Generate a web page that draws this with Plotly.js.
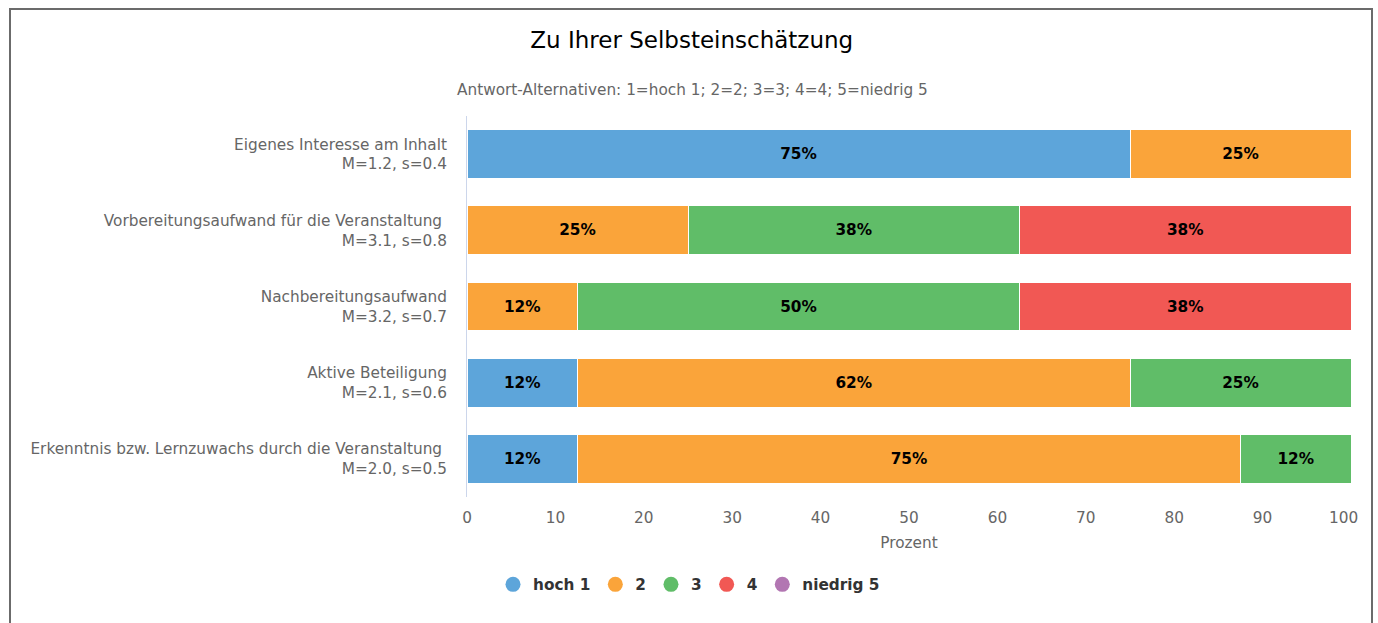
<!DOCTYPE html>
<html>
<head>
<meta charset="utf-8">
<script src="https://cdn.plot.ly/plotly-3.0.1.min.js"></script>
<style>
  html, body { margin: 0; padding: 0; background: #fff; overflow: hidden; }
  #chart { position: absolute; left: 0; top: 0; width: 1378px; height: 623px; }
  #frame { position: absolute; left: 9px; top: 8px; width: 1364px; height: 640px;
           border: 2px solid #6b6b6b; pointer-events: none; box-sizing: border-box; }
</style>
</head>
<body>
<div id="chart"></div>
<div id="frame"></div>
<script>
const categories = [
  "Eigenes Interesse am Inhalt<br>M=1.2, s=0.4",
  "Vorbereitungsaufwand für die Veranstaltung <br>M=3.1, s=0.8",
  "Nachbereitungsaufwand<br>M=3.2, s=0.7",
  "Aktive Beteiligung<br>M=2.1, s=0.6",
  "Erkenntnis bzw. Lernzuwachs durch die Veranstaltung <br>M=2.0, s=0.5"
];
const seriesNames = ["hoch 1", "2", "3", "4", "niedrig 5"];
const hoch1   = [75, 0, 0, 12.5, 12.5];
const val2    = [25, 25, 12.5, 62.5, 75];
const val3    = [0, 37.5, 50, 25, 12.5];
const val4    = [0, 37.5, 37.5, 0, 0];
const niedrig5 = [0, 0, 0, 0, 0];
const colors = ["#5DA5DA", "#FAA43A", "#60BD68", "#F15854", "#B276B2"];
const xTickVals = [0, 10, 20, 30, 40, 50, 60, 70, 80, 90, 100];
const xTickText = ["0", "10", "20", "30", "40", "50", "60", "70", "80", "90", "100\u00a0\u00a0\u00a0"];

const seriesValues = [hoch1, val2, val3, val4, niedrig5];

function roundHalfEven(v) {
  const f = Math.floor(v);
  const d = v - f;
  if (Math.abs(d - 0.5) < 1e-9) return (f % 2 === 0) ? f : f + 1;
  return Math.round(v);
}

const traces = [];
seriesValues.forEach((vals, i) => {
  traces.push({
    type: "bar",
    orientation: "h",
    name: seriesNames[i],
    y: categories,
    x: vals,
    marker: { color: colors[i], line: { color: "#ffffff", width: 1 } },
    text: vals.map(v => v > 0 ? roundHalfEven(v) + "%" : ""),
    textposition: "inside",
    insidetextanchor: "middle",
    textangle: 0,
    constraintext: "none",
    textfont: { family: "DejaVu Sans", size: 15.3, color: "#000000", weight: "bold" },
    showlegend: false,
    hoverinfo: "skip",
    width: 0.64
  });
});
seriesNames.forEach((n, i) => {
  traces.push({
    type: "scatter",
    mode: "markers",
    name: n,
    x: [null],
    y: [null],
    marker: { color: colors[i], size: 15, symbol: "circle" },
    showlegend: true,
    hoverinfo: "skip"
  });
});

const layout = {
  width: 1378,
  height: 623,
  margin: { l: 467, r: 27, t: 116, b: 125.5, pad: 0, autoexpand: false },
  paper_bgcolor: "#ffffff",
  plot_bgcolor: "#ffffff",
  font: { family: "DejaVu Sans", color: "#666666", size: 15.3 },
  barmode: "stack",
  title: {
    text: "Zu Ihrer Selbsteinschätzung",
    font: { family: "DejaVu Sans", size: 23, color: "#000000" },
    x: 0.502, xanchor: "center", xref: "container",
    y: 1 - 40 / 623, yanchor: "middle", yref: "container"
  },
  annotations: [{
    text: "Antwort-Alternativen: 1=hoch 1; 2=2; 3=3; 4=4; 5=niedrig 5",
    xref: "paper", yref: "paper",
    x: (692 - 467) / 884, xanchor: "center",
    y: (497.5 - 90) / 381.5, yanchor: "middle",
    showarrow: false,
    font: { family: "DejaVu Sans", size: 15.3, color: "#666666" }
  }],
  xaxis: {
    range: [0, 100],
    tickmode: "array",
    tickvals: xTickVals,
    ticktext: xTickText,
    showgrid: false,
    zeroline: false,
    showline: false,
    ticks: "",
    tickangle: 0,
    ticklabelstandoff: 10,
    ticklabeloverflow: "allow",
    automargin: false,
    tickfont: { size: 15.3, color: "#666666" },
    title: { text: "Prozent", font: { size: 15.3, color: "#666666" }, standoff: 10 },
    fixedrange: true
  },
  yaxis: {
    autorange: "reversed",
    type: "category",
    automargin: false,
    showgrid: false,
    zeroline: false,
    showline: true,
    linecolor: "#ccd6eb",
    linewidth: 1,
    ticks: "",
    ticklabelstandoff: 16,
    tickfont: { size: 15.3, color: "#666666" },
    fixedrange: true
  },
  legend: {
    orientation: "h",
    xref: "container",
    x: 0.5, xanchor: "center",
    y: (497.5 - 585) / 381.5, yanchor: "middle",
    font: { family: "DejaVu Sans", size: 15.3, color: "#333333", weight: "bold" },
    traceorder: "normal"
  },
  showlegend: true
};

Plotly.newPlot("chart", traces, layout, { displayModeBar: false, staticPlot: true });
</script>
</body>
</html>
